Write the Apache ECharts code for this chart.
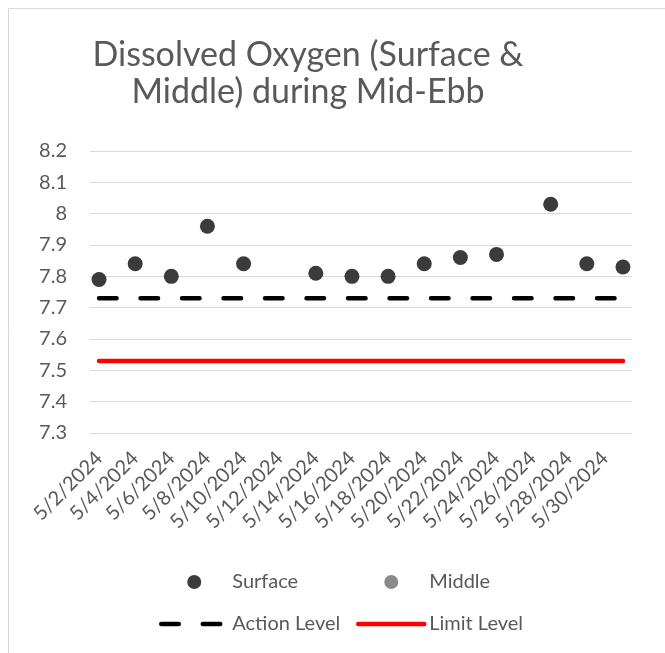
<!DOCTYPE html>
<html>
<head>
<meta charset="utf-8">
<script src="https://cdn.jsdelivr.net/npm/echarts@6/dist/echarts.min.js"></script>
<style>
html,body{margin:0;padding:0;background:#fff;}
#chart{width:665px;height:653px;}
</style>
</head>
<body>
<div id="chart"></div>
<script>
// Category days on the date axis
const axisDates = ['5/2/2024','5/3/2024','5/4/2024','5/5/2024','5/6/2024','5/7/2024','5/8/2024','5/9/2024','5/10/2024','5/11/2024','5/12/2024','5/13/2024','5/14/2024','5/15/2024','5/16/2024','5/17/2024','5/18/2024','5/19/2024','5/20/2024','5/21/2024','5/22/2024','5/23/2024','5/24/2024','5/25/2024','5/26/2024','5/27/2024','5/28/2024','5/29/2024','5/30/2024','5/31/2024'];
// Sampling dates and surface values
const surfaceDates = ['5/2/2024','5/4/2024','5/6/2024','5/8/2024','5/10/2024','5/14/2024','5/16/2024','5/18/2024','5/20/2024','5/22/2024','5/24/2024','5/27/2024','5/29/2024','5/31/2024'];
const surfaceValues = [7.79, 7.84, 7.80, 7.96, 7.84, 7.81, 7.80, 7.80, 7.84, 7.86, 7.87, 8.03, 7.84, 7.83];
// Middle: no values shown
const middleDates = [];
const middleValues = [];
// Levels
const actionLevel = 7.73;
const limitLevel = 7.53;
const yTicks = [7.3, 7.4, 7.5, 7.6, 7.7, 7.8, 7.9, 8.0, 8.1, 8.2];

const FONT = 'Lato';
const TXT = '#595959';

const chart = echarts.init(document.getElementById('chart'), null, {renderer: 'canvas'});
chart.setOption({
  backgroundColor: '#ffffff',
  animation: false,
  graphic: [{
    type: 'rect', left: 6, top: 6, silent: true,
    shape: {width: 720, height: 720},
    style: {fill: 'none', stroke: '#d9d9d9', lineWidth: 1}
  }],
  title: {
    text: 'Dissolved Oxygen (Surface &\nMiddle) during Mid-Ebb',
    left: 303, top: 32, textAlign: 'center',
    textStyle: {fontFamily: FONT, fontSize: 34, fontWeight: 'normal', color: TXT, lineHeight: 37, align: 'center'}
  },
  grid: {left: 90, right: 33, top: 151, bottom: 220, containLabel: false},
  xAxis: {
    type: 'category', data: axisDates, boundaryGap: true,
    axisLine: {show: true, lineStyle: {color: '#d9d9d9', width: 1}},
    axisTick: {show: false},
    splitLine: {show: false},
    axisLabel: {interval: 1, rotate: 45, margin: 22, fontFamily: FONT, fontSize: 20, color: TXT}
  },
  yAxis: {
    type: 'value', min: yTicks[0], max: yTicks[yTicks.length - 1], interval: 0.1,
    axisLine: {show: false}, axisTick: {show: false},
    splitLine: {show: true, lineStyle: {color: '#d9d9d9', width: 1}},
    axisLabel: {margin: 23, fontFamily: FONT, fontSize: 20, color: TXT}
  },
  legend: [{
    orient: 'vertical', left: 154, top: 567, itemWidth: 66, itemHeight: 14, itemGap: 22,
    data: [
      {name: 'Surface', icon: 'circle'},
      {name: 'Action Level', itemStyle: {opacity: 0}, lineStyle: {width: 4.5, type: [17.5, 24], cap: 'round', color: '#000000'}}
    ],
    textStyle: {fontFamily: FONT, fontSize: 20, color: TXT, lineHeight: 20}
  }, {
    orient: 'vertical', left: 351, top: 567, itemWidth: 66, itemHeight: 14, itemGap: 22,
    data: [
      {name: 'Middle', icon: 'circle'},
      {name: 'Limit Level', itemStyle: {opacity: 0}, lineStyle: {width: 4.5, cap: 'round', color: '#ff0000'}}
    ],
    textStyle: {fontFamily: FONT, fontSize: 20, color: TXT, lineHeight: 20}
  }],
  series: [{
    name: 'Surface', type: 'scatter', symbol: 'circle', symbolSize: 15,
    itemStyle: {color: '#3b3b3b', opacity: 1}, z: 5,
    data: surfaceDates.map((d, i) => [d, surfaceValues[i]])
  }, {
    name: 'Middle', type: 'scatter', symbol: 'circle', symbolSize: 15,
    itemStyle: {color: '#8a8a8a', opacity: 1}, z: 6,
    data: middleDates.map((d, i) => [d, middleValues[i]])
  }, {
    name: 'Action Level', type: 'line', symbol: 'none', showSymbol: false,
    lineStyle: {color: '#000000', width: 4.5, type: [17.5, 24], cap: 'round'},
    itemStyle: {color: '#000000'},
    data: axisDates.map(d => [d, actionLevel])
  }, {
    name: 'Limit Level', type: 'line', symbol: 'none', showSymbol: false,
    lineStyle: {color: '#ff0000', width: 4.5, cap: 'round'},
    itemStyle: {color: '#ff0000'},
    data: axisDates.map(d => [d, limitLevel])
  }]
});
</script>
</body>
</html>
